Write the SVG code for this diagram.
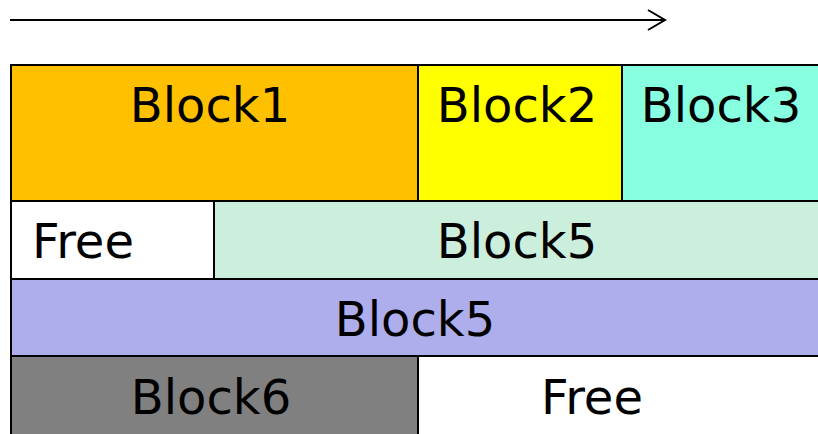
<svg xmlns="http://www.w3.org/2000/svg" width="818" height="434" viewBox="0 0 818 434">
<style>
.b{stroke:#000;stroke-width:2}
.t{font-family:"DejaVu Sans",Verdana,sans-serif;font-size:48px;fill:#000;text-anchor:middle}
</style>
<rect width="818" height="434" fill="#fff"/>
<g id="connectors">
<line x1="10" y1="20" x2="664" y2="20" stroke="#000" stroke-width="2"/>
<polyline points="648,10 665,20 648,30" fill="none" stroke="#000" stroke-width="2"/>
</g>
<g id="block1"><rect class="b" x="11" y="65" width="407" height="136" fill="#FFC000"/><text class="t" x="210" y="122">Block1</text></g>
<g id="block2"><rect class="b" x="418" y="65" width="204" height="136" fill="#FFFF00"/><text class="t" x="517" y="122">Block2</text></g>
<g id="block3"><rect class="b" x="622" y="65" width="200" height="136" fill="#88FFE0"/><text class="t" x="721" y="122">Block3</text></g>
<g id="free1"><rect class="b" x="11" y="201" width="203" height="78" fill="#FFFFFF"/><text class="t" x="83" y="258">Free</text></g>
<g id="block5a"><rect class="b" x="214" y="201" width="608" height="78" fill="#CCEEDD"/><text class="t" x="517" y="258">Block5</text></g>
<g id="block5b"><rect class="b" x="11" y="279" width="811" height="77" fill="#AEAEEC"/><text class="t" x="415" y="336">Block5</text></g>
<g id="block6"><rect class="b" x="11" y="356" width="407" height="82" fill="#808080"/><text class="t" x="211" y="414">Block6</text></g>
<g id="free2"><rect class="b" x="418" y="356" width="404" height="82" fill="#FFFFFF"/><text class="t" x="592" y="414">Free</text></g>
</svg>
